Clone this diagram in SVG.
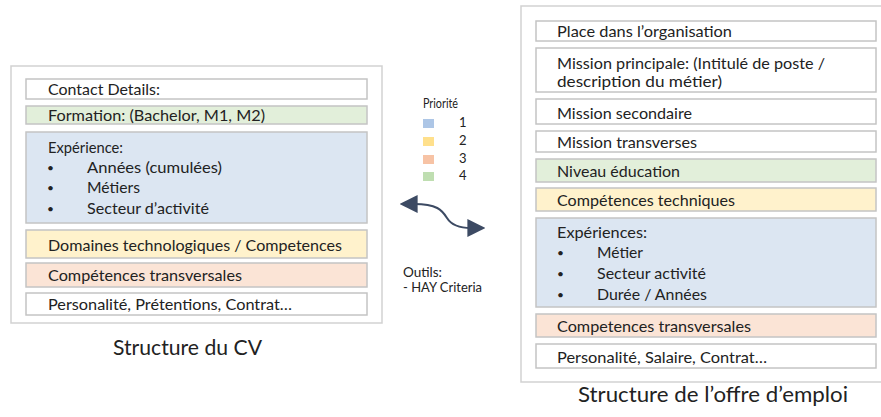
<svg xmlns="http://www.w3.org/2000/svg" width="881" height="417" viewBox="0 0 881 417">
<style>
text{font-family:Lato,"Open Sans","Liberation Sans",sans-serif;fill:#222;}
.t{font-size:16px;}
.bu{font-size:12px;}
.title{font-size:22px;}
.lg{font-size:13px;}
.outer{fill:#fff;stroke:#d2d2d2;stroke-width:1.5;}
.box{stroke:#c4c4c4;stroke-width:1.5;}
.w{fill:#fff;}
.b{fill:#dce6f2;}
.g{fill:#e2efda;}
.y{fill:#fff2cc;}
.o{fill:#fbe4d6;}
.conn{fill:none;stroke:#3c4a63;stroke-width:2;}
</style>
<defs>
<marker id="ah" viewBox="0 0 10 10" refX="2" refY="5" markerWidth="9" markerHeight="9" markerUnits="strokeWidth" orient="auto-start-reverse">
<path d="M0,0 L10,5 L0,10 z" fill="#3c4a63"/>
</marker>
</defs>
<rect width="881" height="417" fill="#fff"/>

<g id="cv">
<rect class="outer" x="11" y="66" width="371" height="257"/>
<g id="cv-contact"><rect class="box w" x="26" y="79" width="341" height="20"/><text class="t" x="48" y="95" textLength="112" lengthAdjust="spacingAndGlyphs">Contact Details:</text></g>
<g id="cv-formation"><rect class="box g" x="26" y="106" width="341" height="18"/><text class="t" x="48" y="121" textLength="217" lengthAdjust="spacingAndGlyphs">Formation: (Bachelor, M1, M2)</text></g>
<g id="cv-experience"><rect class="box b" x="26" y="132" width="341" height="91"/>
<text class="t" x="48" y="153" textLength="75" lengthAdjust="spacingAndGlyphs">Expérience:</text>
<text class="bu" x="47" y="172">•</text><text class="t" x="87" y="173" textLength="135" lengthAdjust="spacingAndGlyphs">Années (cumulées)</text>
<text class="bu" x="47" y="192">•</text><text class="t" x="87" y="193" textLength="53" lengthAdjust="spacingAndGlyphs">Métiers</text>
<text class="bu" x="47" y="213">•</text><text class="t" x="87" y="214" textLength="122" lengthAdjust="spacingAndGlyphs">Secteur d’activité</text>
</g>
<g id="cv-domaines"><rect class="box y" x="26" y="230" width="341" height="28"/><text class="t" x="48" y="251" textLength="294" lengthAdjust="spacingAndGlyphs">Domaines technologiques / Competences</text></g>
<g id="cv-transv"><rect class="box o" x="26" y="263" width="341" height="24"/><text class="t" x="48" y="281" textLength="194" lengthAdjust="spacingAndGlyphs">Compétences transversales</text></g>
<g id="cv-perso"><rect class="box w" x="26" y="293" width="341" height="22"/><text class="t" x="48" y="310" textLength="244" lengthAdjust="spacingAndGlyphs">Personalité, Prétentions, Contrat…</text></g>
<text class="title" x="113" y="355" textLength="149" lengthAdjust="spacingAndGlyphs">Structure du CV</text>
</g>

<g id="legend">
<text class="lg" x="423" y="108" textLength="35" lengthAdjust="spacingAndGlyphs">Priorité</text>
<rect x="423" y="119" width="11" height="9" fill="#adc6e6"/><text class="lg" x="459" y="127">1</text>
<rect x="423" y="137" width="11" height="9" fill="#ffe08c"/><text class="lg" x="459" y="145">2</text>
<rect x="423" y="155" width="11" height="9" fill="#f7c3a5"/><text class="lg" x="459" y="163">3</text>
<rect x="423" y="172" width="11" height="9" fill="#bfdeb1"/><text class="lg" x="459" y="180">4</text>
<text class="lg" x="403" y="277" textLength="39" lengthAdjust="spacingAndGlyphs">Outils:</text>
<text class="lg" x="403" y="292" textLength="79" lengthAdjust="spacingAndGlyphs">- HAY Criteria</text>
</g>

<g id="connectors">
<path class="conn" d="M414,204 C437,204 442,210 447,218 C452,226 460,228 471,228" marker-start="url(#ah)" marker-end="url(#ah)"/>
</g>

<g id="offre">
<rect class="outer" x="521" y="6" width="370" height="376"/>
<g id="o-place"><rect class="box w" x="536" y="21" width="340" height="20"/><text class="t" x="557" y="37" textLength="175" lengthAdjust="spacingAndGlyphs">Place dans l’organisation</text></g>
<g id="o-mission"><rect class="box w" x="536" y="48" width="340" height="44"/>
<text class="t" x="557" y="69" textLength="268" lengthAdjust="spacingAndGlyphs">Mission principale: (Intitulé de poste /</text>
<text class="t" x="557" y="87" textLength="165" lengthAdjust="spacingAndGlyphs">description du métier)</text></g>
<g id="o-secondaire"><rect class="box w" x="536" y="99" width="340" height="25"/><text class="t" x="557" y="119" textLength="135" lengthAdjust="spacingAndGlyphs">Mission secondaire</text></g>
<g id="o-transverses"><rect class="box w" x="536" y="131" width="340" height="21"/><text class="t" x="557" y="148" textLength="140" lengthAdjust="spacingAndGlyphs">Mission transverses</text></g>
<g id="o-education"><rect class="box g" x="536" y="159" width="340" height="23"/><text class="t" x="557" y="177" textLength="123" lengthAdjust="spacingAndGlyphs">Niveau éducation</text></g>
<g id="o-techniques"><rect class="box y" x="536" y="188" width="340" height="23"/><text class="t" x="557" y="206" textLength="178" lengthAdjust="spacingAndGlyphs">Compétences techniques</text></g>
<g id="o-experiences"><rect class="box b" x="536" y="218" width="340" height="89"/>
<text class="t" x="557" y="238" textLength="90" lengthAdjust="spacingAndGlyphs">Expériences:</text>
<text class="bu" x="557" y="257">•</text><text class="t" x="597" y="258" textLength="46" lengthAdjust="spacingAndGlyphs">Métier</text>
<text class="bu" x="557" y="278">•</text><text class="t" x="597" y="279" textLength="109" lengthAdjust="spacingAndGlyphs">Secteur activité</text>
<text class="bu" x="557" y="299">•</text><text class="t" x="597" y="300" textLength="110" lengthAdjust="spacingAndGlyphs">Durée / Années</text>
</g>
<g id="o-transv"><rect class="box o" x="536" y="314" width="340" height="23"/><text class="t" x="557" y="332" textLength="194" lengthAdjust="spacingAndGlyphs">Competences transversales</text></g>
<g id="o-perso"><rect class="box w" x="536" y="344" width="340" height="24"/><text class="t" x="557" y="363" textLength="210" lengthAdjust="spacingAndGlyphs">Personalité, Salaire, Contrat…</text></g>
<text class="title" x="578" y="402" textLength="270" lengthAdjust="spacingAndGlyphs">Structure de l’offre d’emploi</text>
</g>
</svg>
